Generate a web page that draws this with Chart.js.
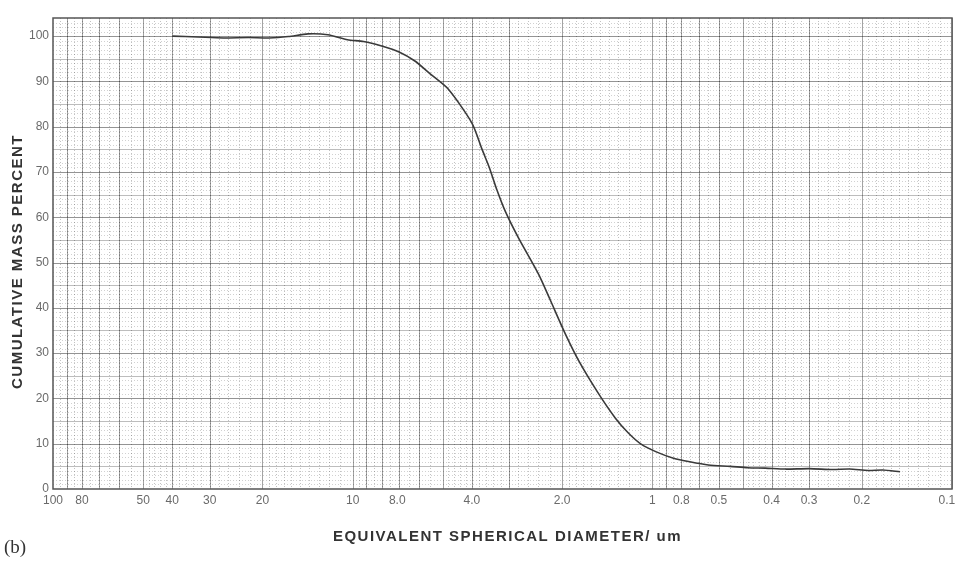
<!DOCTYPE html>
<html>
<head>
<meta charset="utf-8">
<script src="https://cdn.jsdelivr.net/npm/chart.js@4/dist/chart.umd.min.js"></script>
<style>
  html, body { margin: 0; padding: 0; background: #ffffff; }
  #wrap { width: 955px; height: 561px; }
</style>
</head>
<body>
<div id="wrap"><canvas id="sedigraph" width="955" height="561"></canvas></div>
<script>
// Equivalent spherical diameter (um), coarse to fine
const diameter = [40, 32.8, 27, 22.3, 19, 16.4, 14.1, 12.1, 10.4, 9.2, 8.0, 7.0, 6.2, 5.5, 4.8,
    4.0, 3.7, 3.5, 3.3, 3.1, 2.8, 2.4, 2.2, 1.95, 1.75, 1.51, 1.33, 1.2, 1.09, 0.97, 0.85,
    0.75, 0.65, 0.55, 0.48, 0.42, 0.36, 0.30, 0.25, 0.22, 0.19, 0.17, 0.149];
// Cumulative mass percent at each diameter
const massPercent = [100, 99.8, 99.6, 99.7, 99.6, 99.9, 100.5, 100.3, 99.2, 98.8, 97.8, 96.5, 94.5, 91.6, 88.3,
    80.8, 75, 71, 66, 61.4, 55.5, 47.5, 42, 34.2, 28, 21, 15.7, 12.3, 9.9, 8.2, 6.8,
    6.0, 5.3, 5.0, 4.7, 4.6, 4.4, 4.5, 4.3, 4.4, 4.1, 4.2, 3.8];

// Printed labels along the diameter axis and where they sit on the paper
const xTickValues = [100, 80, 50, 40, 30, 20, 10, 7.1, 4, 2, 1, 0.8, 0.6, 0.4, 0.3, 0.2, 0.104];
const xTickLabels = ['100', '80', '50', '40', '30', '20', '10', '8.0', '4.0', '2.0', '1', '0.8', '0.5', '0.4', '0.3', '0.2', '0.1'];
const yTickValues = [0, 10, 20, 30, 40, 50, 60, 70, 80, 90, 100];

const xTitle = 'EQUIVALENT SPHERICAL DIAMETER/ um';
const yTitle = 'CUMULATIVE MASS PERCENT';
const panelLabel = '(b)';

const points = diameter.map((d, i) => ({ x: d, y: massPercent[i] }));

// log-paper style grid behind the curve, plus the spaced-out titles
const paperGrid = {
    id: 'paperGrid',
    beforeDatasetsDraw(chart) {
        const { ctx, chartArea: a, scales: { x, y } } = chart;
        ctx.save();
        ctx.lineWidth = 1;

        const vline = (v) => {
            const px = Math.round(x.getPixelForValue(v)) + 0.5;
            ctx.beginPath(); ctx.moveTo(px, a.top); ctx.lineTo(px, a.bottom); ctx.stroke();
        };
        const hline = (v) => {
            const py = Math.round(y.getPixelForValue(v)) + 0.5;
            ctx.beginPath(); ctx.moveTo(a.left, py); ctx.lineTo(a.right, py); ctx.stroke();
        };

        // fine dotted verticals
        ctx.setLineDash([1, 2]);
        ctx.strokeStyle = 'rgba(0,0,0,0.24)';
        [0.1, 1, 10].forEach(dec => {
            for (let m = 1.1; m < 2; m += 0.1) vline(m * dec);
            for (let m = 2.2; m < 5; m += 0.2) vline(m * dec);
            for (let m = 5.5; m < 10; m += 0.5) vline(m * dec);
        });
        // fine dotted horizontals
        ctx.strokeStyle = 'rgba(0,0,0,0.18)';
        for (let v = 1; v < 104; v++) if (v % 5) hline(v);

        // solid lines
        ctx.setLineDash([]);
        ctx.strokeStyle = 'rgba(0,0,0,0.36)';
        [0.1, 1, 10].forEach(dec => {
            for (let m = 1; m < 10; m++) vline(m * dec);
        });
        ctx.strokeStyle = 'rgba(0,0,0,0.26)';
        for (let v = 5; v <= 100; v += 10) hline(v);
        ctx.strokeStyle = 'rgba(0,0,0,0.42)';
        for (let v = 10; v <= 100; v += 10) hline(v);

        // frame
        ctx.strokeStyle = '#555';
        ctx.lineWidth = 1.5;
        ctx.strokeRect(a.left, a.top, a.right - a.left, a.bottom - a.top);
        ctx.restore();
    },
    afterDraw(chart) {
        const { ctx, chartArea: a } = chart;
        ctx.save();
        ctx.fillStyle = '#333';
        ctx.textAlign = 'center';
        ctx.textBaseline = 'middle';
        ctx.font = 'bold 15px "Liberation Sans", Arial, sans-serif';
        ctx.letterSpacing = '1.5px';
        ctx.fillText(xTitle, (a.left + a.right) / 2 + 5, a.bottom + 48);

        ctx.translate(18, (a.top + a.bottom) / 2 + 8);
        ctx.rotate(-Math.PI / 2);
        ctx.fillText(yTitle, 0, 0);
        ctx.restore();

        ctx.save();
        ctx.fillStyle = '#333';
        ctx.textBaseline = 'middle';
        ctx.font = '19px "Liberation Serif", "DejaVu Serif", serif';
        ctx.fillText(panelLabel, 4, 548);
        ctx.restore();
    }
};

new Chart(document.getElementById('sedigraph'), {
    type: 'scatter',
    data: {
        datasets: [{
            label: 'Cumulative mass percent',
            data: points,
            showLine: true,
            borderColor: '#3a3a3a',
            borderWidth: 1.6,
            pointRadius: 0,
            tension: 0.25
        }]
    },
    options: {
        responsive: false,
        animation: false,
        layout: { padding: { top: 18, right: 3, left: 0, bottom: 0 } },
        plugins: {
            legend: { display: false },
            tooltip: { enabled: false }
        },
        scales: {
            x: {
                type: 'logarithmic',
                reverse: true,
                min: 0.1,
                max: 100,
                grid: { display: false, drawTicks: false },
                border: { display: false },
                afterBuildTicks: (axis) => {
                    axis.ticks = xTickValues.map(v => ({ value: v }));
                },
                afterFit: (axis) => {
                    axis.paddingLeft = 0;
                    axis.paddingRight = 0;
                    axis.height = 72;
                },
                ticks: {
                    autoSkip: false,
                    maxRotation: 0,
                    padding: 4,
                    color: '#6a6a6a',
                    font: { family: '"Liberation Sans", Arial, sans-serif', size: 12 },
                    callback: (value, index) => xTickLabels[index]
                }
            },
            y: {
                min: 0,
                max: 104,
                grid: { display: false, drawTicks: false },
                border: { display: false },
                afterBuildTicks: (axis) => {
                    axis.ticks = yTickValues.map(v => ({ value: v }));
                },
                afterFit: (axis) => {
                    axis.width = 53;
                },
                ticks: {
                    padding: 4,
                    color: '#6a6a6a',
                    font: { family: '"Liberation Sans", Arial, sans-serif', size: 12 }
                }
            }
        }
    },
    plugins: [paperGrid]
});
</script>
</body>
</html>
